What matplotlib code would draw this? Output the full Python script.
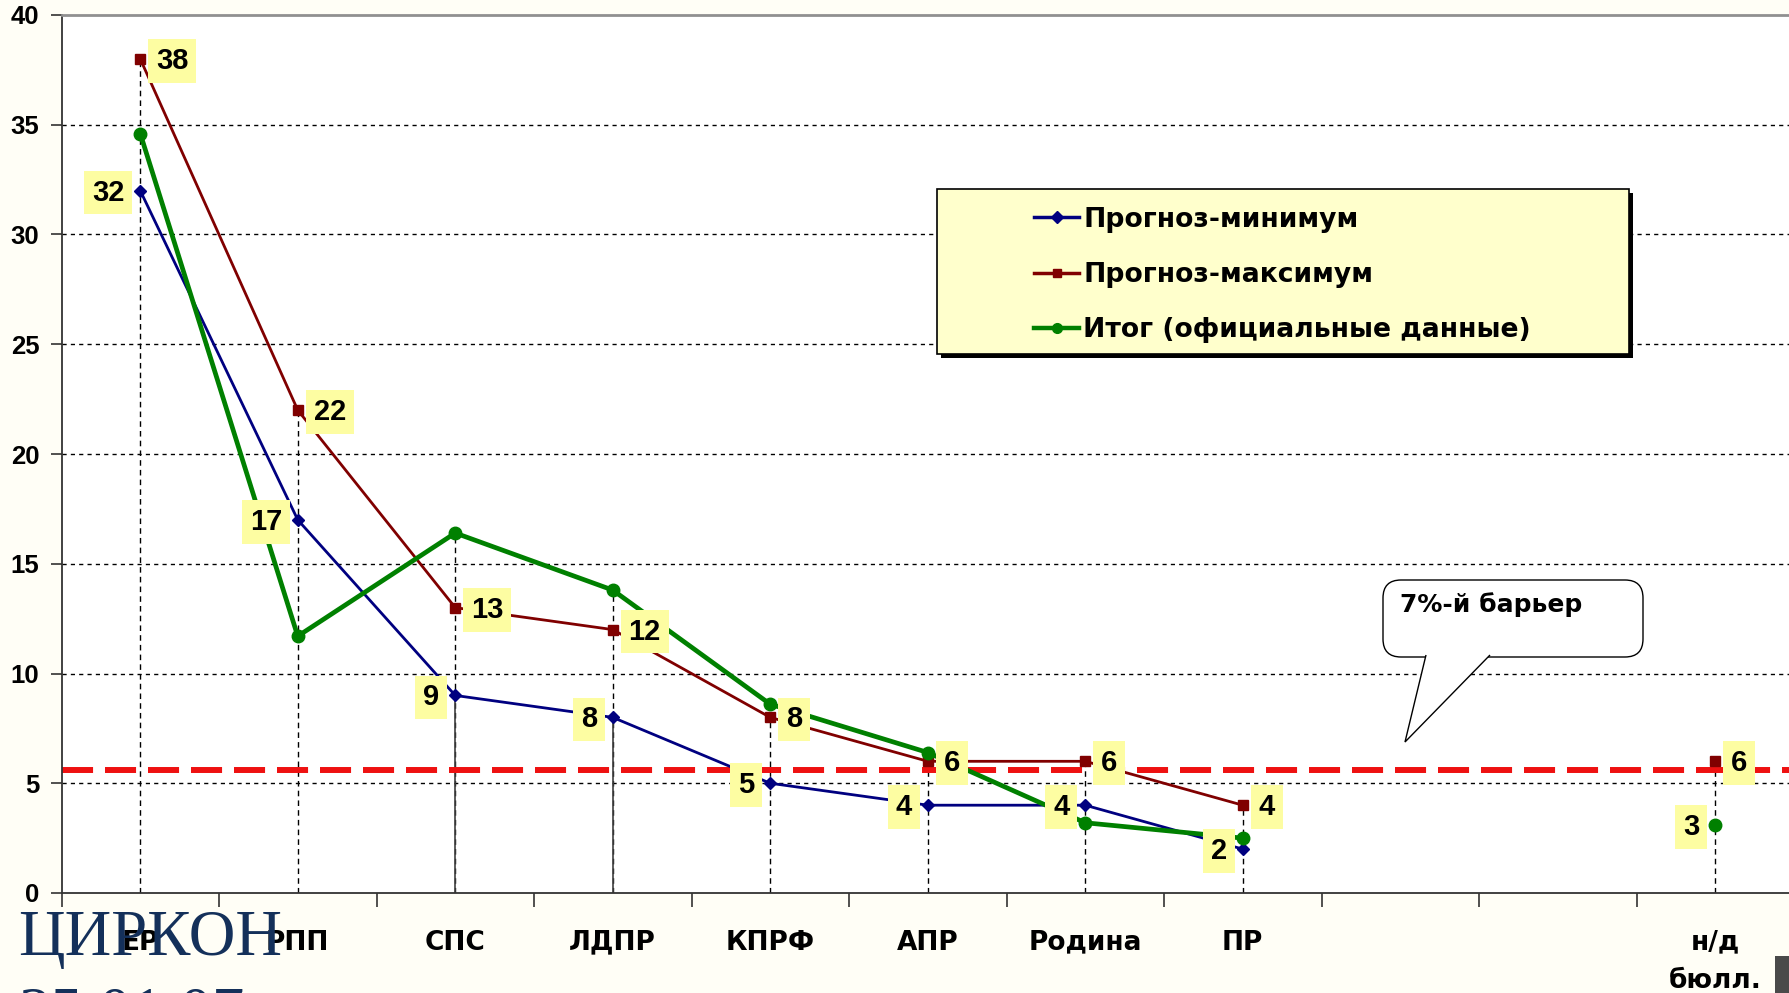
import matplotlib.pyplot as plt
import numpy as np
from matplotlib.patches import Rectangle, FancyBboxPatch, Polygon
from matplotlib.lines import Line2D
from matplotlib.transforms import IdentityTransform

nan = np.nan

# categories (two empty slots before "н/д бюлл.")
parties = ['ЕР', 'РПП', 'СПС', 'ЛДПР', 'КПРФ', 'АПР', 'Родина', 'ПР', '', '', 'н/д\nбюлл.']
prognoz_min = [32, 17, 9, 8, 5, 4, 4, 2, nan, nan, nan]
prognoz_max = [38, 22, 13, 12, 8, 6, 6, 4, nan, nan, 6]
itog = [34.6, 11.7, 16.4, 13.8, 8.6, 6.4, 3.2, 2.5, nan, nan, 3.1]
itog_labels = ['', '', '', '', '', '', '', '', '', '', '3']
barrier = 5.6
solid_drop = ['СПС', 'ЛДПР']

series_names = ['Прогноз-минимум', 'Прогноз-максимум', 'Итог (официальные данные)']
y_ticks = [0, 5, 10, 15, 20, 25, 30, 35, 40]

W, H = 1789, 993
bg = '#FFFEF6'
c_min = '#000080'
c_max = '#800000'
c_itog = '#008000'
label_bg = '#FDFDA2'

fig = plt.figure(figsize=(W / 100, H / 100), dpi=100, facecolor=bg)
ax = fig.add_axes([61.5 / W, 1 - 893 / H, 1732.5 / W, 878 / H])
ax.set_facecolor('white')

x = np.arange(len(parties))

# grid
for yv in y_ticks[1:-1]:
    ax.axhline(yv, color='black', lw=1, ls=(0, (3, 3)), zorder=1)

# drop lines
for i, name in enumerate(parties):
    vals = [v for v in (prognoz_min[i], prognoz_max[i], itog[i]) if not np.isnan(v)]
    if not vals:
        continue
    ax.plot([i, i], [0, max(vals)], color='black', lw=1, ls=(0, (4, 3)), zorder=1.5)
    if name in solid_drop:
        ax.plot([i, i], [0, prognoz_min[i]], color='#404040', lw=1.2, zorder=1.6)

# barrier
ax.axhline(barrier, color='#EE1111', lw=4.3, dashes=(5.2, 2.0), zorder=2)

ax.plot(x, prognoz_min, color=c_min, lw=2, marker='D', ms=6, zorder=3)
ax.plot(x, prognoz_max, color=c_max, lw=2, marker='s', ms=7, zorder=3)
ax.plot(x, itog, color=c_itog, lw=3.4, marker='o', ms=9, zorder=3.5)


def put_label(xi, yv, text, side):
    dx = side * (16 + 8 * len(text))
    ax.annotate(text, (xi, yv), xytext=(dx, -2), textcoords='offset pixels',
                ha='center', va='center', fontsize=21, fontweight='bold',
                family='Liberation Sans', color='black', zorder=6,
                bbox=dict(boxstyle='square,pad=0.27', fc=label_bg, ec='none'))


for i in range(len(parties)):
    if not np.isnan(prognoz_min[i]):
        put_label(i, prognoz_min[i], '%d' % prognoz_min[i], -1)
    if not np.isnan(prognoz_max[i]):
        put_label(i, prognoz_max[i], '%d' % prognoz_max[i], 1)
    if itog_labels[i]:
        put_label(i, itog[i], itog_labels[i], -1)

# axes
ax.set_xlim(-0.5, len(parties) - 0.5)
ax.set_ylim(0, 40)
ax.set_yticks(y_ticks)
ax.set_yticklabels([str(v) for v in y_ticks], fontsize=18.5, fontweight='bold',
                   family='Liberation Sans')
ax.set_xticks(np.arange(-0.5, len(parties), 1))
ax.set_xticklabels([])
ax.set_xticks(x, parties, minor=True)
for t in ax.get_xticklabels(minor=True):
    t.set_fontsize(19)
    t.set_fontweight('bold')
    t.set_family('DejaVu Sans')
    t.set_linespacing(1.6)
ax.tick_params(axis='x', which='major', length=10, width=1.2, color='#333333', direction='out')
ax.tick_params(axis='x', which='minor', length=0, pad=26.5)
ax.tick_params(axis='y', length=8, width=1.2, color='#333333', pad=8)
ax.spines['right'].set_visible(False)
ax.spines['top'].set_color('#909090')
ax.spines['top'].set_linewidth(2)
ax.spines['left'].set_color('#333333')
ax.spines['bottom'].set_color('#333333')
ax.spines['left'].set_linewidth(1.3)
ax.spines['bottom'].set_linewidth(1.3)

# legend box with shadow
lx0, ly0, lx1, ly1 = 937, 189, 1629, 354
ax.add_patch(Rectangle((lx0 + 4, H - ly1 - 4), lx1 - lx0, ly1 - ly0, transform=IdentityTransform(),
                       fc='black', ec='none', clip_on=False, zorder=6.5))
ax.add_patch(Rectangle((lx0, H - ly1), lx1 - lx0, ly1 - ly0, transform=IdentityTransform(),
                       fc='#FFFFCC', ec='black', lw=1.2, clip_on=False, zorder=6.6))
handles = [
    Line2D([], [], color=c_min, lw=2.5, marker='D', ms=6),
    Line2D([], [], color=c_max, lw=2.5, marker='s', ms=6),
    Line2D([], [], color=c_itog, lw=3.2, marker='o', ms=7),
]
leg = ax.legend(handles, series_names, loc='center left',
                bbox_to_anchor=(1010 / W, 1 - 275 / H), bbox_transform=fig.transFigure,
                frameon=False, handlelength=1.7, handletextpad=0.15, labelspacing=1.1,
                prop={'family': 'DejaVu Sans', 'weight': 'bold', 'size': 19.2})
leg.set_zorder(7)

# callout "7%-й барьер"
bx0, by0, bx1, by1 = 1383, 580, 1643, 657
ax.add_patch(FancyBboxPatch((bx0, H - by1), bx1 - bx0, by1 - by0,
                            boxstyle='round,pad=0,rounding_size=18', transform=IdentityTransform(),
                            fc='white', ec='black', lw=1, clip_on=False, zorder=6.5))
ax.add_patch(Polygon([(1426, H - 655), (1405, H - 742), (1490, H - 655)], closed=False,
                     transform=IdentityTransform(), fc='white', ec='black', lw=1,
                     clip_on=False, zorder=6.6))
fig.text(1400 / W, 1 - 605 / H, '7%-й барьер', fontsize=18, fontweight='bold',
         family='DejaVu Sans', ha='left', va='center', zorder=7)

# watermark
fig.text(18 / W, 1 - 955 / H, 'ЦИРКОН', fontsize=46.5, family='Liberation Serif',
         color='#14305A', ha='left', va='baseline', zorder=10)
fig.text(18 / W, 1 - 1032 / H, '25.01.07', fontsize=46.5, family='Liberation Serif',
         color='#14305A', ha='left', va='baseline', zorder=10)

# small gray block bottom right
fig.patches.append(Rectangle((1775 / W, 0), 14 / W, 37 / H, transform=fig.transFigure,
                             fc='#4A4A4A', ec='none', zorder=10))

fig.savefig('out.png', dpi=100, facecolor=bg)
